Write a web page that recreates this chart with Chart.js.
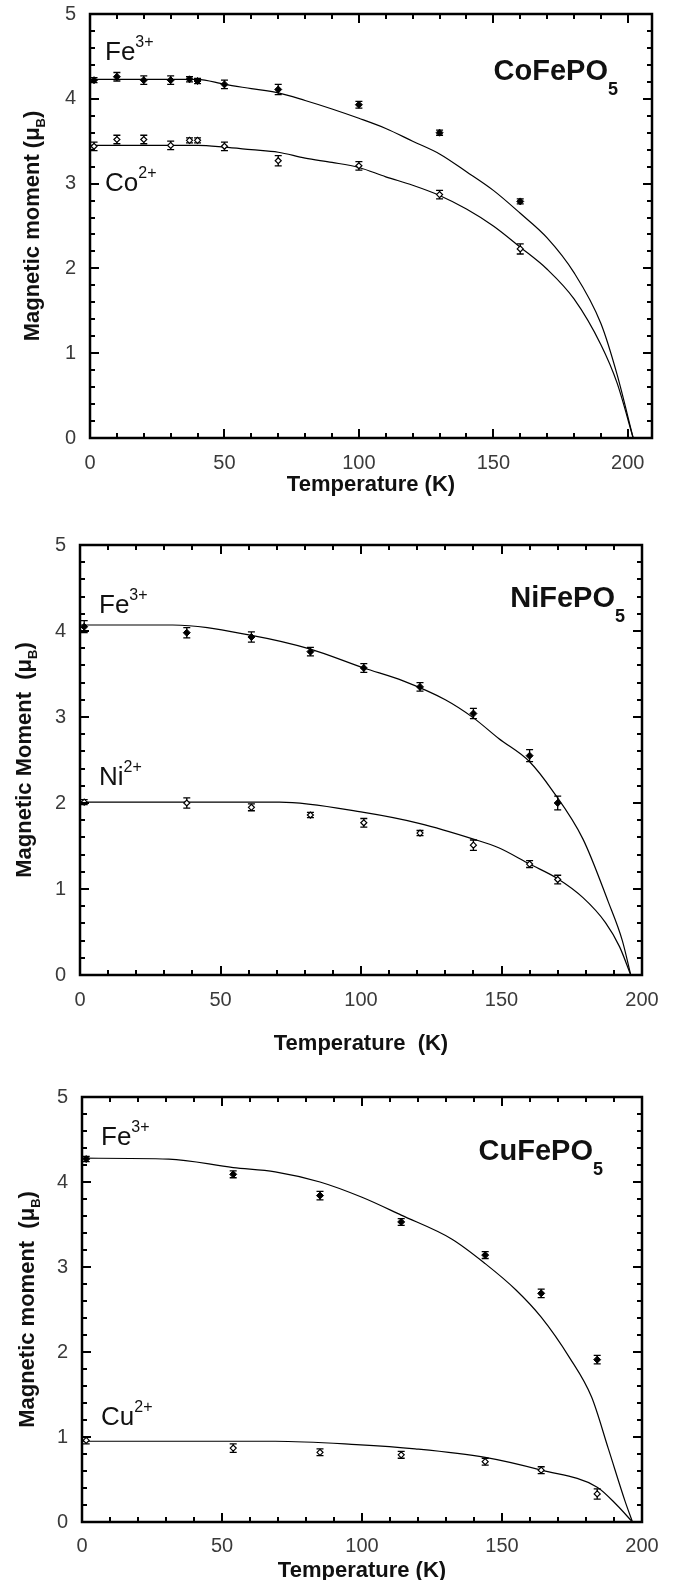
<!DOCTYPE html>
<html>
<head>
<meta charset="utf-8">
<script src="https://cdn.jsdelivr.net/npm/chart.js@4.4.1/dist/chart.umd.min.js"></script>
<style>
  html, body { margin: 0; padding: 0; background: #fff; overflow: hidden; }
  body { width: 674px; height: 1580px; position: relative; }
  canvas { position: absolute; left: 0; }
</style>
</head>
<body>
<canvas id="co" width="674" height="510" style="top:0px"></canvas>
<canvas id="ni" width="674" height="550" style="top:510px"></canvas>
<canvas id="cu" width="674" height="550" style="top:1050px"></canvas>
<script>
// ---- tick labels ----
const xTicks = [0, 50, 100, 150, 200];
const yTicks = [0, 1, 2, 3, 4, 5];

// ---- CoFePO5 ----
const coT = [1.5, 10, 20, 30, 37, 40, 50, 70, 100, 130, 160];
const coFe = [4.22, 4.26, 4.22, 4.22, 4.23, 4.21, 4.17, 4.11, 3.93, 3.60, 2.79];
const coFeErr = [0.03, 0.05, 0.05, 0.05, 0.03, 0.03, 0.05, 0.06, 0.04, 0.03, 0.03];
const coCo = [3.44, 3.52, 3.52, 3.45, 3.51, 3.51, 3.44, 3.27, 3.21, 2.87, 2.23];
const coCoErr = [0.05, 0.05, 0.05, 0.05, 0.03, 0.03, 0.05, 0.06, 0.05, 0.05, 0.06];
const coFitT = [0, 40, 50, 60, 70, 80, 90, 100, 110, 120, 130, 140, 150, 160, 170, 180, 190, 196, 202];
const coFitFe = [4.23, 4.23, 4.17, 4.12, 4.07, 3.98, 3.88, 3.77, 3.65, 3.50, 3.35, 3.14, 2.92, 2.65, 2.36, 1.95, 1.35, 0.75, 0];
const coFitCo = [3.45, 3.45, 3.43, 3.40, 3.37, 3.30, 3.25, 3.19, 3.08, 2.98, 2.86, 2.70, 2.50, 2.25, 1.99, 1.64, 1.10, 0.65, 0];

// ---- NiFePO5 ----
const niT = [1.5, 38, 61, 82, 101, 121, 140, 160, 170];
const niFe = [4.05, 3.98, 3.93, 3.76, 3.57, 3.35, 3.04, 2.55, 2.00];
const niFeErr = [0.07, 0.06, 0.06, 0.05, 0.05, 0.05, 0.06, 0.07, 0.08];
const niNi = [2.01, 2.00, 1.95, 1.86, 1.77, 1.65, 1.51, 1.29, 1.11];
const niNiErr = [0.03, 0.06, 0.04, 0.03, 0.05, 0.03, 0.06, 0.04, 0.05];
const niFitFeT = [0, 33, 61, 82, 101, 115, 130, 140, 149, 160, 168, 179, 188, 193, 196];
const niFitFe = [4.07, 4.07, 3.95, 3.79, 3.57, 3.42, 3.20, 2.99, 2.75, 2.48, 2.15, 1.58, 0.85, 0.40, 0];
const niFitNiT = [0, 71, 101, 121, 140, 149, 160, 170, 179, 187, 192, 196];
const niFitNi = [2.01, 2.01, 1.89, 1.76, 1.58, 1.48, 1.29, 1.12, 0.90, 0.61, 0.33, 0];

// ---- CuFePO5 ----
const cuT = [1.5, 54, 85, 114, 144, 164, 184];
const cuFe = [4.27, 4.09, 3.84, 3.53, 3.14, 2.69, 1.91];
const cuFeErr = [0.03, 0.04, 0.05, 0.04, 0.04, 0.05, 0.05];
const cuCu = [0.96, 0.87, 0.82, 0.79, 0.71, 0.61, 0.33];
const cuCuErr = [0.04, 0.05, 0.04, 0.04, 0.04, 0.04, 0.06];
const cuFitFeT = [0, 31, 54, 69, 85, 100, 114, 132, 144, 155, 164, 174, 182, 188, 194, 196.6];
const cuFitFe = [4.28, 4.27, 4.17, 4.12, 4.00, 3.82, 3.61, 3.33, 3.04, 2.73, 2.41, 1.94, 1.47, 0.86, 0.24, 0];
const cuFitCuT = [0, 69, 98, 119, 144, 164, 184, 191, 196.6];
const cuFitCu = [0.95, 0.95, 0.91, 0.86, 0.76, 0.61, 0.41, 0.20, 0];

const FONT = '"Liberation Sans", Arial, Helvetica, sans-serif';

function pts(xs, ys) {
  return xs.map((x, i) => ({ x: x, y: ys[i] }));
}

function drawRich(ctx, x, y, parts) {
  let cx = x;
  parts.forEach(p => {
    ctx.font = p.font;
    ctx.fillText(p.text, cx, y + (p.dy || 0));
    cx += ctx.measureText(p.text).width;
  });
}
function richWidth(ctx, parts) {
  let w = 0;
  parts.forEach(p => { ctx.font = p.font; w += ctx.measureText(p.text).width; });
  return w;
}

function ion(el, charge) {
  return [
    { text: el, font: '26px ' + FONT },
    { text: charge, font: '16px ' + FONT, dy: -13 }
  ];
}
function compound(name) {
  return [
    { text: name, font: 'bold 29px ' + FONT },
    { text: '5', font: 'bold 18px ' + FONT, dy: 15 }
  ];
}
function yTitle(txt) {
  return [
    { text: txt, font: 'bold 22px ' + FONT },
    { text: 'B', font: 'bold 13px ' + FONT, dy: 8 },
    { text: ')', font: 'bold 22px ' + FONT }
  ];
}

const decor = {
  id: 'decor',
  beforeDatasetsDraw(chart) {
    const { ctx, scales: { x, y } } = chart;
    ctx.save();
    ctx.strokeStyle = '#000';
    ctx.lineWidth = 1.3;
    chart.data.datasets.forEach(ds => {
      if (!ds.err) return;
      ctx.beginPath();
      ds.data.forEach((p, i) => {
        const px = x.getPixelForValue(p.x);
        const y1 = y.getPixelForValue(p.y + ds.err[i]);
        const y2 = y.getPixelForValue(p.y - ds.err[i]);
        ctx.moveTo(px, y1); ctx.lineTo(px, y2);
        ctx.moveTo(px - 3.5, y1); ctx.lineTo(px + 3.5, y1);
        ctx.moveTo(px - 3.5, y2); ctx.lineTo(px + 3.5, y2);
      });
      ctx.stroke();
    });
    ctx.restore();
  },
  afterDatasetsDraw(chart, args, o) {
    const { ctx, chartArea: a, scales: { x, y } } = chart;
    ctx.save();
    ctx.strokeStyle = '#000';
    ctx.lineWidth = 2;
    ctx.beginPath();
    for (let v = 0; v <= x.max + 0.001; v += 10) {
      const px = Math.round(x.getPixelForValue(v));
      const len = v % 50 === 0 ? 9 : 5;
      ctx.moveTo(px, a.bottom); ctx.lineTo(px, a.bottom - len);
      ctx.moveTo(px, a.top); ctx.lineTo(px, a.top + len);
    }
    for (let k = 0; k <= 25; k++) {
      const py = Math.round(y.getPixelForValue(k * 0.2));
      const len = k % 5 === 0 ? 9 : 5;
      ctx.moveTo(a.left, py); ctx.lineTo(a.left + len, py);
      ctx.moveTo(a.right, py); ctx.lineTo(a.right - len, py);
    }
    ctx.stroke();
    ctx.lineWidth = 2.5;
    ctx.strokeRect(a.left, a.top, a.right - a.left, a.bottom - a.top);

    ctx.fillStyle = '#111';
    ctx.textBaseline = 'alphabetic';
    o.labels.forEach(l => {
      const lx = l.side === 'r' ? a.right + l.dx - richWidth(ctx, l.parts) : a.left + l.dx;
      drawRich(ctx, lx, a.top + l.dy, l.parts);
    });

    ctx.save();
    ctx.translate(o.yTitleX, (a.top + a.bottom) / 2);
    ctx.rotate(-Math.PI / 2);
    ctx.textBaseline = 'middle';
    const w = richWidth(ctx, o.yTitle);
    drawRich(ctx, -w / 2, 0, o.yTitle);
    ctx.restore();
    ctx.restore();
  }
};

function makePanel(id, p) {
  const H = document.getElementById(id).height;
  return new Chart(document.getElementById(id), {
    type: 'scatter',
    data: {
      datasets: [
        { data: pts(p.t, p.fe), err: p.feErr, pointStyle: 'rectRot', pointRadius: 3.5,
          backgroundColor: '#000', borderColor: '#000', borderWidth: 1 },
        { data: pts(p.t, p.m), err: p.mErr, pointStyle: 'rectRot', pointRadius: 3,
          backgroundColor: '#fff', borderColor: '#000', borderWidth: 1.2 },
        { data: pts(p.fitFeT, p.fitFe), showLine: true, pointRadius: 0, borderColor: '#000',
          borderWidth: 1.2, cubicInterpolationMode: 'monotone' },
        { data: pts(p.fitMT, p.fitM), showLine: true, pointRadius: 0, borderColor: '#000',
          borderWidth: 1.2, cubicInterpolationMode: 'monotone' }
      ]
    },
    options: {
      responsive: false,
      animation: false,
      devicePixelRatio: 1,
      layout: { padding: { left: 0, top: p.top, right: 674 - p.right, bottom: 0 } },
      plugins: {
        legend: { display: false },
        tooltip: { enabled: false },
        decor: { labels: p.labels, yTitle: p.yTitle, yTitleX: p.yTitleX }
      },
      scales: {
        x: {
          type: 'linear', min: 0, max: p.xMax,
          grid: { display: false, drawTicks: false },
          border: { display: false },
          afterBuildTicks: s => { s.ticks = xTicks.map(v => ({ value: v })); },
          afterFit: s => { s.height = H - p.bottom; s.paddingLeft = 0; s.paddingRight = 0; },
          ticks: { padding: p.xTickPad, color: '#3a3a3a', font: { family: FONT, size: 20 } },
          title: { display: true, text: p.xTitle, color: '#111',
                   font: { family: FONT, size: 22, weight: 'bold' },
                   padding: { top: 0, bottom: p.xTitlePad } }
        },
        y: {
          type: 'linear', min: 0, max: 5,
          grid: { display: false, drawTicks: false },
          border: { display: false },
          afterBuildTicks: s => { s.ticks = yTicks.map(v => ({ value: v })); },
          afterFit: s => { s.width = p.left; s.paddingTop = 0; s.paddingBottom = 0; },
          ticks: { padding: 14, color: '#3a3a3a', font: { family: FONT, size: 20 } }
        }
      }
    },
    plugins: [decor]
  });
}

makePanel('co', {
  top: 14, bottom: 438, left: 90, right: 652, xMax: 209,
  t: coT, fe: coFe, feErr: coFeErr, m: coCo, mErr: coCoErr,
  fitFeT: coFitT, fitFe: coFitFe, fitMT: coFitT, fitM: coFitCo,
  xTitle: 'Temperature (K)', xTitlePad: 12, xTickPad: 13,
  yTitle: yTitle('Magnetic moment (\u03bc'), yTitleX: 33,
  labels: [
    { dx: 15, dy: 46, parts: ion('Fe', '3+') },
    { dx: 15, dy: 177, parts: ion('Co', '2+') },
    { side: 'r', dx: -34, dy: 66, parts: compound('CoFePO') }
  ]
});

makePanel('ni', {
  top: 35, bottom: 465, left: 80, right: 642, xMax: 200,
  t: niT, fe: niFe, feErr: niFeErr, m: niNi, mErr: niNiErr,
  fitFeT: niFitFeT, fitFe: niFitFe, fitMT: niFitNiT, fitM: niFitNi,
  xTitle: 'Temperature  (K)', xTitlePad: 3, xTickPad: 13,
  yTitle: yTitle('Magnetic Moment  (\u03bc'), yTitleX: 25,
  labels: [
    { dx: 19, dy: 68, parts: ion('Fe', '3+') },
    { dx: 19, dy: 240, parts: ion('Ni', '2+') },
    { side: 'r', dx: -17, dy: 62, parts: compound('NiFePO') }
  ]
});

makePanel('cu', {
  top: 47, bottom: 472, left: 82, right: 642, xMax: 200,
  t: cuT, fe: cuFe, feErr: cuFeErr, m: cuCu, mErr: cuCuErr,
  fitFeT: cuFitFeT, fitFe: cuFitFe, fitMT: cuFitCuT, fitM: cuFitCu,
  xTitle: 'Temperature (K)', xTitlePad: 16, xTickPad: 12,
  yTitle: yTitle('Magnetic moment  (\u03bc'), yTitleX: 28,
  labels: [
    { dx: 19, dy: 48, parts: ion('Fe', '3+') },
    { dx: 19, dy: 328, parts: ion('Cu', '2+') },
    { side: 'r', dx: -39, dy: 63, parts: compound('CuFePO') }
  ]
});
</script>
</body>
</html>
